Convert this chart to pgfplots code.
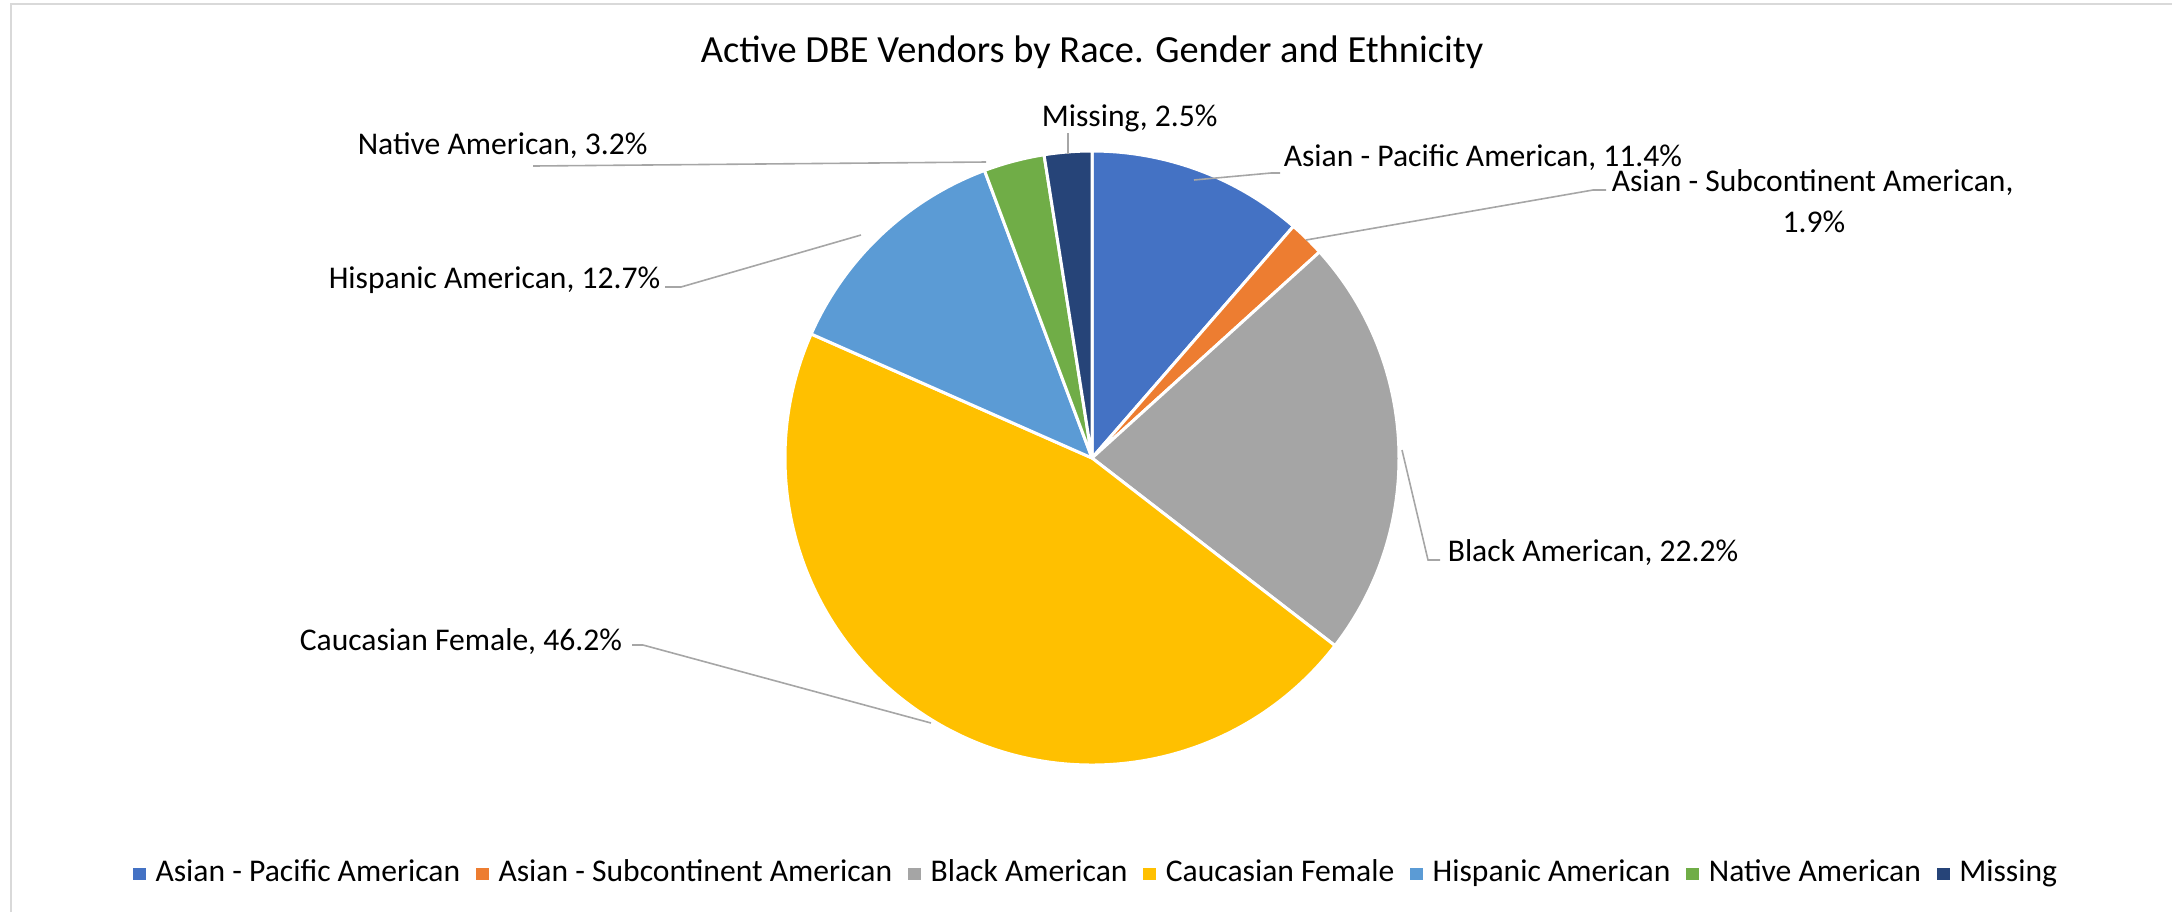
\documentclass[border=0pt]{standalone}
\usepackage{pgfplots}
\pgfplotsset{compat=1.18}
\usepackage{pgfplotstable}
\usepackage{fontspec}
\setmainfont{Carlito}

\definecolor{pie0}{HTML}{4472C4}
\definecolor{pie1}{HTML}{ED7D31}
\definecolor{pie2}{HTML}{A5A5A5}
\definecolor{pie3}{HTML}{FFC000}
\definecolor{pie4}{HTML}{5B9BD5}
\definecolor{pie5}{HTML}{70AD47}
\definecolor{pie6}{HTML}{264478}
\definecolor{leader}{HTML}{A6A6A6}
\definecolor{frame}{HTML}{D9D9D9}

\newcommand\lbl{\fontsize{7.9}{9.5}\selectfont}

% share of each group, in %, clockwise from 12 o'clock
\pgfplotstableread{
value
11.4
1.9
22.2
46.2
12.7
3.2
2.5
}\piedata

% total and the start/end angle of every slice
\def\total{0}%
\pgfplotstableforeachcolumnelement{value}\of\piedata\as\v{%
  \pgfmathsetmacro\tmpsum{\total+\v}\xdef\total{\tmpsum}}%
\def\cum{0}%
\pgfplotstableforeachcolumnelement{value}\of\piedata\as\v{%
  \pgfmathsetmacro\angA{90-360*(\cum/\total)}%
  \pgfmathsetmacro\angB{90-360*((\cum+\v)/\total)}%
  \expandafter\xdef\csname pieA\pgfplotstablerow\endcsname{\angA}%
  \expandafter\xdef\csname pieB\pgfplotstablerow\endcsname{\angB}%
  \pgfmathsetmacro\tmpcum{\cum+\v}\xdef\cum{\tmpcum}}%

\begin{document}
\begin{tikzpicture}
\begin{axis}[
    hide axis, scale only axis,
    width=543pt, height=228pt,
    xmin=0, xmax=2172, ymin=0, ymax=912, y dir=reverse,
    clip=false,
    legend columns=-1,
    legend image code/.code={\path[#1] (0pt,-1.6pt) rectangle (3.2pt,1.6pt);},
    legend style={at={(axis description cs:0.5064,0.0417)}, anchor=center,
        draw=none, fill=none, font=\lbl, inner sep=0pt,
        nodes={inner xsep=2.4pt, inner ysep=1pt},
        /tikz/every even column/.append style={column sep=1.6pt}},
]
\coordinate (BL) at (axis cs:0,912);
\coordinate (TR) at (axis cs:2172,0);

% frame
\draw[frame, line width=0.6pt] (axis cs:11,912) -- (axis cs:11,4) -- (axis cs:2172,4);

% slices
\pgfplotsinvokeforeach{0,...,6}{
  \fill[pie#1, draw=white, line width=0.75pt, line join=round]
    (axis cs:1092,458) -- ++(\csname pieA#1\endcsname:76.75pt)
    arc[start angle=\csname pieA#1\endcsname, end angle=\csname pieB#1\endcsname, radius=76.75pt] -- cycle;
}

% legend
\addlegendimage{fill=pie0, draw=none}\addlegendentry{Asian - Pacific American}
\addlegendimage{fill=pie1, draw=none}\addlegendentry{Asian - Subcontinent American}
\addlegendimage{fill=pie2, draw=none}\addlegendentry{Black American}
\addlegendimage{fill=pie3, draw=none}\addlegendentry{Caucasian Female}
\addlegendimage{fill=pie4, draw=none}\addlegendentry{Hispanic American}
\addlegendimage{fill=pie5, draw=none}\addlegendentry{Native American}
\addlegendimage{fill=pie6, draw=none}\addlegendentry{Missing}

% title
\node[anchor=base, font=\fontsize{9.6}{11}\selectfont] at (axis cs:1092,62)
  {Active DBE Vendors by Race. Gender and Ethnicity};

% leader lines
\begin{scope}[leader, line width=0.4pt]
\draw (axis cs:1068,133) -- (axis cs:1068,154);
\draw (axis cs:533,166) -- (axis cs:986,162);
\draw (axis cs:665,287) -- (axis cs:681,287) -- (axis cs:861,235);
\draw (axis cs:632,645) -- (axis cs:643,645) -- (axis cs:931,723);
\draw (axis cs:1402,450) -- (axis cs:1428,560) -- (axis cs:1440,560);
\draw (axis cs:1194,180) -- (axis cs:1271,173) -- (axis cs:1280,173);
\draw (axis cs:1306,240) -- (axis cs:1593,190) -- (axis cs:1606,190);
\end{scope}

% data labels
\begin{scope}[font=\lbl, inner sep=0pt]
\node[anchor=base west] at (axis cs:1041,126) {Missing, 2.5\%};
\node[anchor=base west] at (axis cs:357,154) {Native American, 3.2\%};
\node[anchor=base west] at (axis cs:328,288) {Hispanic American, 12.7\%};
\node[anchor=base west] at (axis cs:299,650) {Caucasian Female, 46.2\%};
\node[anchor=base west] at (axis cs:1447,561) {Black American, 22.2\%};
\node[anchor=base west] at (axis cs:1283,166) {Asian - Pacific American, 11.4\%};
\node[anchor=base west] at (axis cs:1611,191) {Asian - Subcontinent American,};
\node[anchor=base] at (axis cs:1814,232) {1.9\%};
\end{scope}
\end{axis}
\pgfresetboundingbox
\path (BL) rectangle (TR);
\end{tikzpicture}
\end{document}
